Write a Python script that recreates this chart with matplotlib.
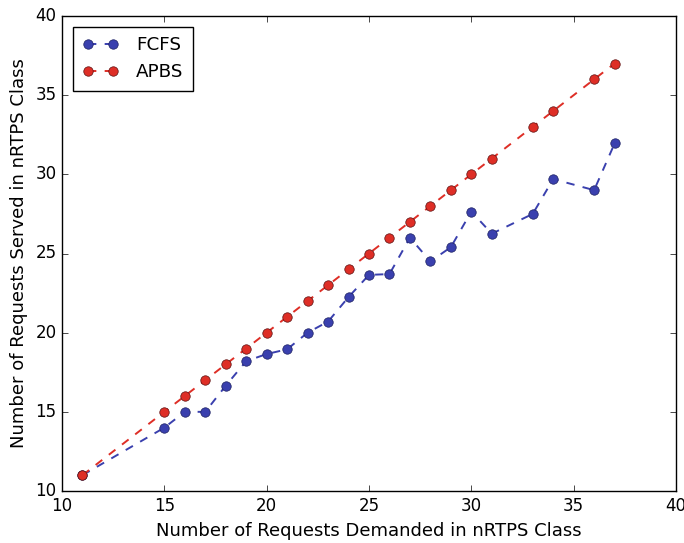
import matplotlib
matplotlib.use('Agg')

import matplotlib.pyplot as plt

# requests demanded vs served in the nRTPS class
demanded = [11, 15, 16, 17, 18, 19, 20, 21, 22, 23, 24, 25, 26, 27, 28, 29, 30, 31, 33, 34, 36, 37]
fcfs = [11, 14, 15, 15, 16.65, 18.2, 18.65, 18.95, 20, 20.7, 22.25, 23.65, 23.7, 26,
        24.5, 25.4, 27.65, 26.25, 27.5, 29.7, 29, 31.95]
apbs = [11, 15, 16, 17, 18, 19, 20, 21, 22, 23, 24, 25, 26, 27, 28, 29, 30, 31, 33, 34, 36, 37]

plt.style.use('classic')
plt.rcParams['font.family'] = ['DejaVu Sans']

fig = plt.figure(figsize=(6.84, 5.43), dpi=100, facecolor='white')
ax = fig.add_axes([62 / 684, 1 - 491 / 543, (676 - 62) / 684, (491 - 16) / 543])

ax.plot(demanded, fcfs, '--o', color='#3a40ae', markersize=6.8, markeredgecolor='#1a1f60',
        markeredgewidth=0.5, linewidth=1.4, label='FCFS')
ax.plot(demanded, apbs, '--o', color='#de2e26', markersize=6.8, markeredgecolor='#5a1010',
        markeredgewidth=0.5, linewidth=1.4, label='APBS')

ax.set_xlim(10, 40)
ax.set_ylim(10, 40)
ax.set_xticks(range(10, 41, 5))
ax.set_yticks(range(10, 41, 5))
ax.tick_params(labelsize=12)

ax.set_xlabel('Number of Requests Demanded in nRTPS Class', fontsize=13)
ax.set_ylabel('Number of Requests Served in nRTPS Class', fontsize=13)

leg = ax.legend(loc='upper left', numpoints=2, fontsize=13.2, fancybox=False,
                handletextpad=0.95, labelspacing=0.5, borderpad=0.5,
                borderaxespad=0.6)
leg.get_frame().set_edgecolor('black')

plt.savefig('out.png', dpi=100, facecolor='white')
